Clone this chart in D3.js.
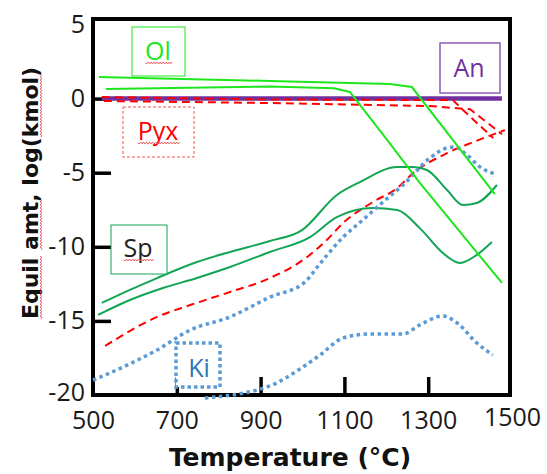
<!DOCTYPE html>
<html>
<head>
<meta charset="utf-8">
<script src="https://cdn.jsdelivr.net/npm/d3@7/dist/d3.min.js"></script>
<style>
  html, body { margin: 0; padding: 0; background: #fff; }
  svg { display: block; }
  .tick text { font-family: "Open Sans", sans-serif; font-size: 25px; fill: #1a1a1a; }
  .tick line { stroke: #000; stroke-width: 3.5; }
  .lbl { font-family: "Open Sans", sans-serif; font-size: 25px; text-anchor: middle; }
  .title { font-family: "DejaVu Sans", sans-serif; font-weight: bold; fill: #111; text-anchor: middle; }
</style>
</head>
<body>
<svg width="547" height="474"></svg>
<script>
// temperature (C), log(kmol)
var xTicks = [500, 700, 900, 1100, 1300, 1500];
var yTicks = [5, 0, -5, -10, -15, -20];

var olUpper = [[514, 1.46], [922, 1.19], [1209, 0.99], [1261, 0.78], [1459, -6.44]];
var olLower = [[531, 0.65], [922, 0.82], [1075, 0.7], [1113, 0.45], [1202, -2.79], [1280, -5.69], [1476, -12.44]];

var anLine = [[521, 0], [1476, 0]];

var pyxA = [[521, 0.1], [922, -0.06], [1359, -0.1], [1383, -0.77], [1455, -2.66]];
var pyxB = [[526, -0.16], [922, -0.3], [1304, -0.5], [1376, -0.67], [1400, -0.72], [1476, -2.4]];
var pyxC = [[529, -16.69], [653, -14.73], [732, -13.93], [827, -13.05], [922, -12.11], [1011, -10.69],
            [1058, -9.54], [1097, -8.39], [1168, -6.98], [1226, -6.04], [1264, -5.03], [1345, -3.68],
            [1407, -2.94], [1483, -2.13]];

var spUpper = [[521, -13.79], [588, -12.91], [653, -12.11], [748, -11.03], [827, -10.35], [922, -9.61],
               [999, -8.87], [1082, -6.5], [1137, -5.63], [1226, -4.62], [1264, -4.62], [1297, -4.82],
               [1345, -6.17], [1383, -7.18], [1416, -7.04], [1464, -5.83]];
var spLower = [[512, -14.6], [588, -13.59], [667, -12.78], [748, -12.1], [827, -11.36], [922, -10.35],
               [1018, -9.34], [1082, -8.0], [1168, -7.39], [1226, -7.52], [1280, -8.74], [1335, -10.42],
               [1376, -11.09], [1416, -10.55], [1452, -9.68]];

var kiUpper = [[500, -19.0], [572, -18.11], [653, -16.96], [732, -15.62], [827, -14.73], [922, -13.4],
               [1005, -12.4], [1040, -11.2], [1097, -9.34], [1144, -8.19], [1192, -6.98], [1240, -5.83],
               [1304, -4.01], [1345, -3.33], [1364, -3.27], [1393, -3.81], [1424, -4.62], [1459, -5.09]];
var kiLower = [[767, -20.2], [922, -19.39], [1001, -18.11], [1042, -17.3], [1097, -16.15], [1161, -15.88],
               [1240, -15.88], [1280, -15.27], [1335, -14.67], [1369, -15.14], [1416, -16.49], [1454, -17.3]];

var svg = d3.select("svg");

var x = d3.scaleLinear().domain([500, 1500]).range([93, 512]);
var y = d3.scaleLinear().domain([-20, 5]).range([395, 24.5]);

var smooth = d3.line().x(function(d) { return x(d[0]); }).y(function(d) { return y(d[1]); }).curve(d3.curveMonotoneX);
var straight = d3.line().x(function(d) { return x(d[0]); }).y(function(d) { return y(d[1]); });

var plain = function(d) { return String(d); };

// axes, ticks pointing inward
var gx = svg.append("g").attr("transform", "translate(0,395)")
    .call(d3.axisBottom(x).tickValues(xTicks).tickFormat(plain).tickSizeInner(-18).tickSizeOuter(0).tickPadding(16));
gx.select(".domain").remove();
gx.selectAll(".tick").filter(function(d) { return d === 500 || d === 1500; }).select("line").remove();
gx.selectAll(".tick").filter(function(d) { return d === 1500; }).select("text").attr("y", 13);

var gy = svg.append("g").attr("transform", "translate(93,0)")
    .call(d3.axisLeft(y).tickValues(yTicks).tickFormat(plain).tickSizeInner(-18).tickSizeOuter(0).tickPadding(8));
gy.select(".domain").remove();
gy.selectAll(".tick").filter(function(d) { return d === 5 || d === -20; }).select("line").remove();
gy.selectAll(".tick").filter(function(d) { return d === -20; }).select("text").attr("dy", "0.2em");

// frame
svg.append("rect")
    .attr("x", 93).attr("y", 19).attr("width", 417).attr("height", 376)
    .attr("fill", "none").attr("stroke", "#000").attr("stroke-width", 4);

var series = [
  { d: anLine, color: "#7030a0", w: 4.5, dash: null, gen: straight },
  { d: pyxA, color: "#ff0000", w: 2, dash: "8,5", gen: straight },
  { d: pyxB, color: "#ff0000", w: 2, dash: "8,5", gen: straight },
  { d: pyxC, color: "#ff0000", w: 2, dash: "8,5", gen: smooth },
  { d: spUpper, color: "#12a554", w: 2, dash: null, gen: smooth },
  { d: spLower, color: "#12a554", w: 2, dash: null, gen: smooth },
  { d: kiUpper, color: "#5b9bd5", w: 3.5, dash: "3.5,3.5", gen: smooth },
  { d: kiLower, color: "#5b9bd5", w: 3.5, dash: "3.5,3.5", gen: smooth },
  { d: olUpper, color: "#1ee61e", w: 2, dash: null, gen: straight },
  { d: olLower, color: "#1ee61e", w: 2, dash: null, gen: straight }
];

svg.selectAll("path.series")
    .data(series)
    .enter().append("path")
    .attr("class", "series")
    .attr("d", function(s) { return s.gen(s.d); })
    .attr("fill", "none")
    .attr("stroke", function(s) { return s.color; })
    .attr("stroke-width", function(s) { return s.w; })
    .attr("stroke-dasharray", function(s) { return s.dash; });

// spell-check squiggle
function wavy(g, x0, x1, yy) {
  var p = "M" + x0 + "," + yy;
  for (var xx = x0, i = 0; xx < x1; xx += 1.5, i++) {
    p += "L" + (xx + 1.5) + "," + (yy + (i % 2 ? -1 : 1));
  }
  g.append("path").attr("d", p).attr("fill", "none").attr("stroke", "#f05050").attr("stroke-width", 0.9);
}

// label boxes
var boxes = [
  { t: "Ol",  x0: 132, y0: 27,  x1: 185, y1: 76,  tx: 158, ty: 60,  fill: "#1ee61e", stroke: "#1ee61e", sw: 1, dash: null, wave: true },
  { t: "Pyx", x0: 123, y0: 107, x1: 194, y1: 157, tx: 158, ty: 140, fill: "#ff0000", stroke: "#ff5050", sw: 1, dash: "3,2", wave: true },
  { t: "An",  x0: 440, y0: 43,  x1: 500, y1: 93,  tx: 469, ty: 77,  fill: "#7030a0", stroke: "#8a5cb8", sw: 1.5, dash: null, wave: false },
  { t: "Sp",  x0: 111, y0: 225, x1: 167, y1: 274, tx: 138, ty: 257, fill: "#222", stroke: "#12a554", sw: 1, dash: null, wave: true },
  { t: "Ki",  x0: 176, y0: 343, x1: 220, y1: 387, tx: 199, ty: 377, fill: "#2e75b6", stroke: "#5b9bd5", sw: 3.5, dash: "3.5,3", wave: false }
];

boxes.forEach(function(b) {
  svg.append("rect")
      .attr("x", b.x0).attr("y", b.y0).attr("width", b.x1 - b.x0).attr("height", b.y1 - b.y0)
      .attr("fill", "#fff").attr("stroke", b.stroke).attr("stroke-width", b.sw)
      .attr("stroke-dasharray", b.dash);
  var t = svg.append("text").attr("class", "lbl")
      .attr("x", b.tx).attr("y", b.ty).attr("fill", b.fill).text(b.t);
  if (b.wave) {
    var bb = t.node().getBBox();
    wavy(svg, bb.x, bb.x + bb.width, b.ty + 3);
  }
});

// axis titles
svg.append("text").attr("class", "title")
    .attr("x", 290).attr("y", 466)
    .style("font-size", "25px")
    .text("Temperature (°C)");

var gt = svg.append("g").attr("transform", "translate(38,193) rotate(-90)");
var yt = gt.append("text").attr("class", "title")
    .attr("x", 0).attr("y", 0)
    .style("font-size", "22px")
    .text("Equil amt, log(kmol)");
var node = yt.node();
[[0, 5], [6, 3], [15, 4]].forEach(function(r) {
  var s = node.getStartPositionOfChar(r[0]).x;
  var e = s + node.getSubStringLength(r[0], r[1]);
  wavy(gt, s, e, 3);
});
</script>
</body>
</html>
